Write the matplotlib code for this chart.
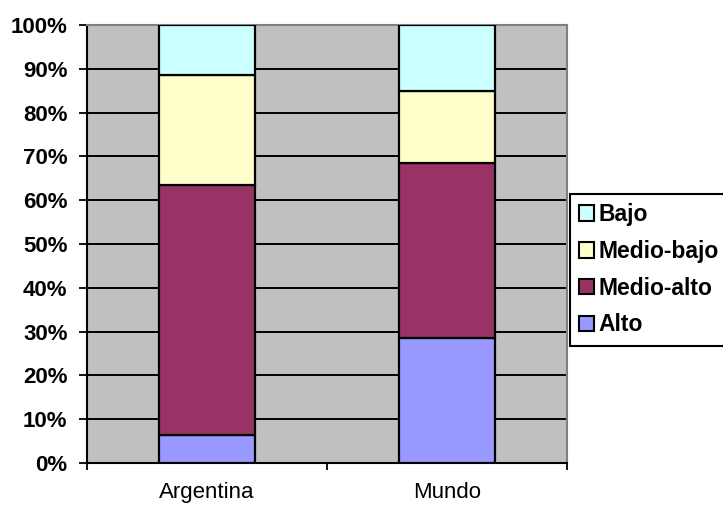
import matplotlib
matplotlib.use("Agg")
import matplotlib.pyplot as plt
from matplotlib.patches import Patch
import numpy as np

categories = ["Argentina", "Mundo"]
series_names = ["Alto", "Medio-alto", "Medio-bajo", "Bajo"]
alto = [6.5, 28.5]
medio_alto = [57.0, 40.1]
medio_bajo = [25.1, 16.3]
bajo = [11.4, 15.1]
y_ticks = [0, 10, 20, 30, 40, 50, 60, 70, 80, 90, 100]
y_tick_labels = [f"{v}%" for v in y_ticks]

colors = {"Alto": "#9999FF", "Medio-alto": "#993366",
          "Medio-bajo": "#FFFFCC", "Bajo": "#CCFFFF"}

plt.rcParams["font.family"] = ["Liberation Sans", "DejaVu Sans"]

fig = plt.figure(figsize=(7.23, 5.07), dpi=100)
ax = fig.add_axes([87 / 723, 1 - 463 / 507, 480 / 723, 438 / 507])
ax.set_facecolor("#C0C0C0")

x = np.arange(len(categories)) + 0.5
bottom = np.zeros(len(categories))
for name, vals in zip(series_names, [alto, medio_alto, medio_bajo, bajo]):
    vals = np.array(vals)
    ax.bar(x, vals, width=0.4, bottom=bottom, color=colors[name],
           edgecolor="black", linewidth=1.6, zorder=3, label=name)
    bottom += vals

ax.set_xlim(0, 2)
ax.set_ylim(0, 100)
ax.set_yticks(y_ticks)
ax.set_yticklabels(y_tick_labels, fontsize=16, fontweight="bold")
for v in y_ticks[1:-1]:
    ax.axhline(v, color="black", linewidth=1.4, zorder=1)

ax.set_xticks([0, 1, 2])
ax.set_xticklabels([])
ax.set_xticks(x, minor=True)
ax.set_xticklabels(categories, minor=True, fontsize=16)
ax.tick_params(axis="x", which="major", direction="out", length=5, width=1.3)
ax.tick_params(axis="x", which="minor", length=0, pad=14)
ax.tick_params(axis="y", direction="out", length=6, width=1.3, pad=8)

for side in ("left", "bottom"):
    ax.spines[side].set_color("black")
    ax.spines[side].set_linewidth(1.5)
for side in ("top", "right"):
    ax.spines[side].set_color("#808080")
    ax.spines[side].set_linewidth(1.5)

handles = [Patch(facecolor=colors[n], edgecolor="black", linewidth=1.5, label=n)
           for n in reversed(series_names)]
leg = fig.legend(handles=handles, loc="upper left",
                 bbox_to_anchor=(570 / 723, 1 - 194 / 507),
                 prop={"size": 16.5, "weight": "bold"},
                 handlelength=0.65, handleheight=0.65, handletextpad=0.2,
                 labelspacing=0.6, borderpad=0.4, borderaxespad=0,
                 frameon=True, fancybox=False, framealpha=1)
leg.get_frame().set_edgecolor("black")
leg.get_frame().set_linewidth(1.5)

fig.savefig("out.png", dpi=100)
